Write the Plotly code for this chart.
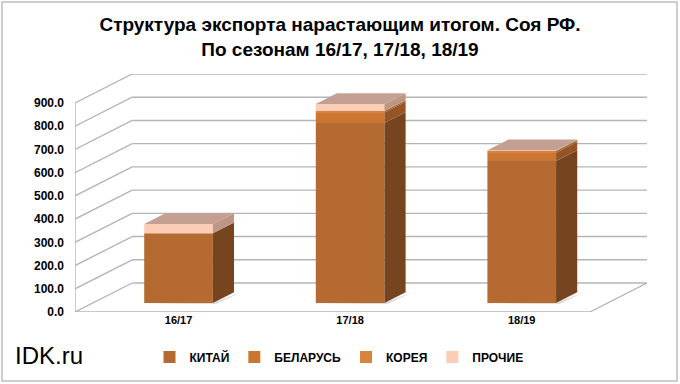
import plotly.graph_objects as go

# ---------------- data ----------------
categories = ["16/17", "17/18", "18/19"]
china = [300, 775, 612]
belarus = [0, 45, 35]
korea = [0, 7, 8]
other = [40, 30, 3]
series_names = ["КИТАЙ", "БЕЛАРУСЬ", "КОРЕЯ", "ПРОЧИЕ"]
y_ticks = [0, 100, 200, 300, 400, 500, 600, 700, 800, 900]

# ---------------- styles ----------------
front_colors = ["#B46A30", "#CC7634", "#D8843E", "#FBCDB6"]
side_colors = ["#774420", "#975425", "#A2602C", "#BE9684"]
top_colors = ["#A8704A", "#B07A55", "#B98560", "#C3A092"]
grid_color = "#B5B5B5"

# 3-D geometry in axis units
DEPTH_X = 1 / 3      # floor depth, category units
DEPTH_Y = 124.9      # floor depth, value units
BAR_W = 0.40
BAR_F0 = 0.31        # depth fraction of bar front face
BAR_D = 0.37         # bar depth fraction
Y_MAX = 1024.9

L, R, T, B = 75, 33, 74, 72
W, H = 680, 384

series = [china, belarus, korea, other]
n = len(categories)
xc = [i + 0.5 + BAR_F0 * DEPTH_X for i in range(n)]
base0 = BAR_F0 * DEPTH_Y
dxb = BAR_D * DEPTH_X
dyb = BAR_D * DEPTH_Y

fig = go.Figure()
shapes = []

# walls / grid (below bars)
for v in y_ticks:
    shapes.append(dict(type="line", xref="x", yref="y", x0=DEPTH_X, x1=n + DEPTH_X,
                       y0=v + DEPTH_Y, y1=v + DEPTH_Y, line=dict(color=grid_color, width=1.4),
                       layer="below"))
    shapes.append(dict(type="line", xref="x", yref="y", x0=0, x1=DEPTH_X,
                       y0=v, y1=v + DEPTH_Y, line=dict(color=grid_color, width=1.4),
                       layer="below"))
shapes.append(dict(type="line", xref="x", yref="y", x0=0, x1=0, y0=0, y1=y_ticks[-1],
                   line=dict(color=grid_color, width=1.4), layer="below"))
shapes.append(dict(type="line", xref="x", yref="y", x0=0, x1=n, y0=0, y1=0,
                   line=dict(color=grid_color, width=1.4), layer="below"))
shapes.append(dict(type="line", xref="x", yref="y", x0=n, x1=n + DEPTH_X, y0=0, y1=DEPTH_Y,
                   line=dict(color=grid_color, width=1.4), layer="below"))

# soft floor shadows
for i in range(n):
    x0 = xc[i] - BAR_W / 2
    x1 = xc[i] + BAR_W / 2
    shapes.append(dict(type="path", xref="x", yref="y",
                       path=f"M{x0 - 0.03},{base0 - 4} L{x1 + 0.02},{base0 - 4} "
                            f"L{x1 + dxb + 0.04},{base0 + dyb} L{x1},{base0 + 2} Z",
                       fillcolor="rgba(120,120,120,0.25)", line=dict(width=0), layer="below"))

# front faces via bar traces
cum = [base0] * n
for s, name in enumerate(series_names):
    vals = series[s]
    fig.add_trace(go.Bar(
        x=xc, y=vals, base=list(cum), width=BAR_W, name=name,
        marker=dict(color=front_colors[s], line=dict(width=0)),
        hoverinfo="skip",
    ))
    # side faces
    for i in range(n):
        if vals[i] <= 0:
            continue
        xr = xc[i] + BAR_W / 2
        y0 = cum[i]
        y1 = cum[i] + vals[i]
        shapes.append(dict(type="path", xref="x", yref="y",
                           path=f"M{xr},{y0} L{xr},{y1} L{xr + dxb},{y1 + dyb} L{xr + dxb},{y0 + dyb} Z",
                           fillcolor=side_colors[s], line=dict(width=0), layer="above"))
    cum = [cum[i] + vals[i] for i in range(n)]

# top faces
for i in range(n):
    top_s = max(s for s in range(len(series)) if series[s][i] > 0)
    xl = xc[i] - BAR_W / 2
    xr = xc[i] + BAR_W / 2
    t = cum[i]
    shapes.append(dict(type="path", xref="x", yref="y",
                       path=f"M{xl},{t} L{xr},{t} L{xr + dxb},{t + dyb} L{xl + dxb},{t + dyb} Z",
                       fillcolor=top_colors[top_s], line=dict(width=0), layer="above"))

# outer border (paper coords)
pw, ph = W - L - R, H - T - B
def px(x):
    return (x - L) / pw
def py(y):
    return (H - B - y) / ph
shapes.append(dict(type="rect", xref="paper", yref="paper",
                   x0=px(2), x1=px(677), y0=py(381), y1=py(2),
                   line=dict(color="#BFBFBF", width=1.5), layer="below"))

fig.update_layout(
    width=W, height=H,
    margin=dict(l=L, r=R, t=T, b=B),
    paper_bgcolor="white", plot_bgcolor="white",
    barmode="overlay",
    shapes=shapes,
    showlegend=True,
    title=dict(text="<b>Структура экспорта нарастающим итогом. Соя РФ.<br>По сезонам 16/17, 17/18, 18/19</b>",
               x=px(340), xref="paper", xanchor="center", yref="container", yanchor="middle",
               font=dict(family="Liberation Sans, Arial", size=19, color="black")),
    legend=dict(orientation="h", x=px(339), xanchor="center", y=py(357), yanchor="middle",
                font=dict(family="Liberation Sans, Arial", size=12, color="black", weight="bold"),
                itemwidth=30, traceorder="normal", bgcolor="rgba(0,0,0,0)"),
    xaxis=dict(range=[0, n + DEPTH_X], showgrid=False, zeroline=False, showline=False,
               tickvals=xc, ticktext=categories, ticks="",
               tickfont=dict(family="Liberation Sans, Arial", size=11, color="black", weight="bold"),
               fixedrange=True),
    yaxis=dict(range=[0, Y_MAX], showgrid=False, zeroline=False, showline=False,
               tickvals=y_ticks, tickformat=".1f", ticks="", ticklabelstandoff=10,
               tickfont=dict(family="Liberation Sans, Arial", size=12, color="black", weight="bold"),
               fixedrange=True),
    annotations=[dict(text="IDK.ru", xref="paper", yref="paper", x=px(13), y=py(355),
                      xanchor="left", yanchor="middle", showarrow=False,
                      font=dict(family="Liberation Sans, Arial", size=24, color="black"))],
)
fig.update_layout(title_y=(H - 31) / H)

fig.write_html("out.html", config={"displayModeBar": False},
               post_script="document.body.style.margin='0';document.body.style.overflow='hidden';")
